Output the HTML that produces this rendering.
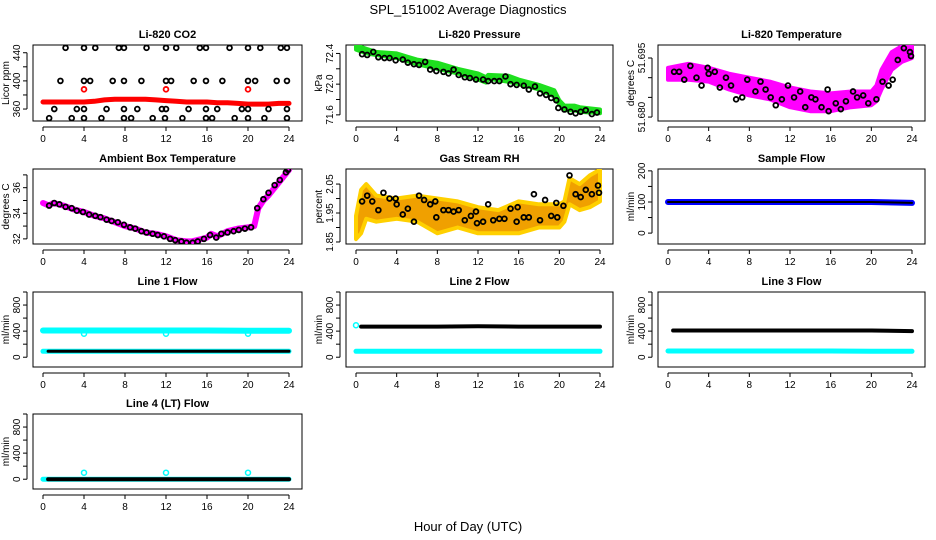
<!DOCTYPE html>
<html><head><meta charset="utf-8">
<style>
html,body{margin:0;padding:0;background:#fff;}
svg{display:block;font-family:"Liberation Sans",sans-serif;}
</style></head>
<body>
<svg id="chart" width="936" height="540" xmlns="http://www.w3.org/2000/svg">
<rect x="0" y="0" width="936" height="540" fill="#fff"/>
<text x="468" y="14" text-anchor="middle" font-size="13">SPL_151002  Average Diagnostics</text>
<text x="468" y="531" text-anchor="middle" font-size="13">Hour of Day (UTC)</text>
</svg>
<script>
// ---- data ----
const xTicks = [0,4,8,12,16,20,24];
// CO2
const co2Hours = [0,1,2,3,4,5,6,7,8,9,10,11,12,13,14,15,16,17,18,19,20,21,22,23,24];
const co2Red = [370,370,370,370,370,371,373,374,374,374,374,373,372,371,370,370,370,369,369,368,367,367,367,368,368];
const co2RedSpikeHours = [4,12,20];
const co2RedSpike = [388,388,388];
const co2Blk440 = [2.2,4,5.1,7.4,7.9,10.1,12,13,15.3,15.9,18.2,20,21.2,23.2,23.8];
const co2Blk400 = [1.7,4,4.6,6.8,7.9,9.6,12,12.5,14.7,15.9,17.5,20,20.7,22.8,23.8];
const co2Blk360 = [1.1,3.3,4,6.2,7.9,9.2,11.6,12,14.2,15.9,17,19.4,20,22,23.8];
const co2Blk347 = [0.6,2.8,4,5.7,7.9,8.6,10.7,11.9,13.6,15.9,16.5,18.7,20,21.6,23.8];
// Pressure
const presHours = [0.6,1.1,1.7,2.2,2.8,3.3,3.9,4.6,5.1,5.7,6.2,6.8,7.3,7.9,8.6,9.1,9.6,10.1,10.7,11.2,11.8,12.5,13,13.6,14.1,14.7,15.2,15.8,16.5,17,17.6,18.1,18.7,19.2,19.7,19.9,20.5,21.1,21.6,22.1,22.6,23.2,23.7];
const presBlack = [72.39,72.38,72.42,72.35,72.34,72.34,72.31,72.32,72.28,72.26,72.25,72.29,72.19,72.17,72.16,72.14,72.19,72.12,72.09,72.08,72.06,72.06,72.04,72.04,72.04,72.10,72.00,71.99,71.98,71.93,71.97,71.88,71.86,71.82,71.79,71.69,71.67,71.64,71.62,71.64,71.66,71.61,71.63];
const presBandHours = [0,1,2,4,5,6,8,10,12,12.8,13,15,16,18,19.5,20,20.5,21.5,22,24];
const presLow = [72.45,72.40,72.38,72.34,72.30,72.26,72.20,72.14,72.06,72.02,72.07,72.03,72.00,71.93,71.84,71.74,71.66,71.66,71.64,71.62];
const presHigh = [72.51,72.46,72.42,72.40,72.36,72.32,72.28,72.20,72.14,72.09,72.12,72.11,72.06,71.99,71.92,71.79,71.72,71.72,71.70,71.67];
// Li-820 temperature
const tempBandHours = [0,2,4,6,8,10,12,14,16,18,20,20.5,21,22,23,24];
const tempLow = [51.6895,51.6895,51.689,51.687,51.6855,51.6845,51.6825,51.6815,51.6815,51.6825,51.683,51.684,51.687,51.692,51.694,51.695];
const tempHigh = [51.6925,51.6935,51.6925,51.691,51.690,51.689,51.6875,51.6865,51.686,51.6865,51.6865,51.688,51.692,51.6965,51.698,51.698];
const tempHours = [0.6,1.1,1.6,2.2,2.8,3.3,3.9,4,4.6,5.1,5.7,6.2,6.7,7.3,7.8,8.6,9.1,9.6,10.1,10.6,11.2,11.8,12.4,13,13.5,14.1,14.5,15.1,15.7,15.8,16.5,17,17.5,18.2,18.6,19.2,19.7,20.5,21.1,21.7,22.1,22.6,23.2,23.8,23.9];
const tempBlack = [51.6915,51.6915,51.6895,51.693,51.690,51.688,51.6925,51.691,51.6915,51.6875,51.690,51.688,51.6845,51.685,51.6895,51.6865,51.689,51.687,51.685,51.683,51.6845,51.688,51.685,51.6865,51.6825,51.685,51.6845,51.6825,51.687,51.6815,51.6835,51.682,51.684,51.6865,51.685,51.6855,51.6835,51.6845,51.689,51.688,51.6895,51.6945,51.6975,51.6965,51.6955];
// Ambient box temperature
const ambHours = [0,0.6,1,2,3,4,5,6,7,8,9,10,11,12,13,14,14.5,15,16,16.4,17,18,19,20,20.6,21,21.5,22,22.5,23,23.5,24];
const ambMagenta = [34.8,34.6,34.8,34.6,34.3,34.1,33.8,33.6,33.3,33.0,32.8,32.5,32.4,32.2,31.9,31.8,31.8,31.9,32.1,32.4,32.2,32.6,32.8,32.9,33.0,34.4,35.0,35.4,35.9,36.4,36.9,37.4];
const ambBlkHours = [0.6,1.1,1.6,2.2,2.8,3.3,3.9,4.5,5.1,5.6,6.2,6.7,7.3,7.9,8.5,9,9.6,10.1,10.7,11.2,11.8,12.4,12.9,13.5,14,14.6,15.1,15.7,16.3,16.9,17.4,18,18.6,19.1,19.7,20.3,20.9,21.5,22,22.6,23.1,23.7,23.9];
const ambBlack = [34.6,34.8,34.7,34.5,34.4,34.2,34.1,33.9,33.8,33.7,33.5,33.4,33.3,33.1,32.9,32.8,32.6,32.5,32.4,32.3,32.2,32.0,31.9,31.8,31.7,31.7,31.8,32.0,32.3,32.1,32.4,32.5,32.6,32.7,32.8,32.9,34.4,35.1,35.6,36.2,36.6,37.2,37.4];
// Gas stream RH
const rhBandHours = [0,0.5,1,2,4,6,8,10,12,14,16,18,20,20.5,21,22,23,24];
const rhLow = [1.86,1.88,1.93,1.92,1.93,1.92,1.88,1.90,1.88,1.88,1.88,1.90,1.90,1.92,1.98,1.96,1.97,1.99];
const rhHigh = [1.94,2.03,2.05,2.01,2.00,2.01,2.00,1.99,1.97,1.96,1.99,1.98,1.98,1.99,2.07,2.05,2.08,2.10];
const rhHours = [0.6,1.1,1.6,2.2,2.7,3.3,3.9,4,4.6,5.1,5.7,6.2,6.7,7.3,7.8,7.9,8.6,9.1,9.6,10.1,10.7,11.3,11.8,11.9,12.5,13,13.5,14.1,14.6,15.2,15.8,15.9,16.5,17,17.5,18.1,18.6,19.2,19.7,19.8,20.4,21,21.6,22.1,22.6,23.2,23.8,23.9];
const rhBlack = [1.99,2.01,1.99,1.96,2.02,2.00,2.00,1.98,1.945,1.965,1.92,2.01,1.995,1.98,1.99,1.935,1.96,1.96,1.955,1.96,1.925,1.94,1.955,1.915,1.92,1.98,1.925,1.93,1.93,1.965,1.92,1.97,1.935,1.935,2.015,1.925,1.995,1.94,1.985,1.935,1.975,2.08,2.015,2.005,2.03,2.015,2.045,2.02];
// Flows
const flowHours = [0,4,8,12,16,20,24];
const sampleBlue = [100,100,100,100,100,100,97];
const sampleBlack = [100,100,100,100,100,100,97];
const line1Cyan = [410,410,410,410,410,405,405];
const line1Black = [90,90,90,90,90,90,90];
const line1DipHours = [4,12,20];
const line1Dip = [360,360,360];
const line2Black = [470,470,470,475,470,470,470];
const line2Cyan = [90,90,90,90,90,90,90];
const line2CyanStart = [490];
const line3Black = [410,410,410,410,410,410,400];
const line3Cyan = [95,95,95,95,95,90,90];
const line4Black = [0,0,0,0,0,0,0];
const line4Cyan = [0,0,0,0,0,0,0];
const line4SpikeHours = [4,12,20];
const line4Spike = [100,100,100];

// ---- drawing ----
const NS = "http://www.w3.org/2000/svg";
const svg = document.getElementById('chart');
const colL = [33,346,658], colR = [302,613,925];
const rowT = [45,169,292,414], rowB = [121,244,367,489];
function mk(tag, attrs, parent){ const e=document.createElementNS(NS,tag); for(const k in attrs) e.setAttribute(k,attrs[k]); (parent||svg).appendChild(e); return e; }

function panel(name, col, row, title, ylab, ymin, ymax, ticks, labels, fmt){
  const g = mk('g',{});
  
  
  const L=colL[col], R=colR[col], T=rowT[row], B=rowB[row];
  const xs = h => L+10+h*(R-L-23)/24;
  const ys = v => B-(v-ymin)/(ymax-ymin)*(B-T);
  const box = mk('rect',{x:L,y:T,width:R-L,height:B-T,fill:'none',stroke:'#000','stroke-width':1},g);
  
  
  const t = mk('text',{x:(L+R)/2,y:T-7,'text-anchor':'middle','font-size':11,'font-weight':'bold'},g);
  t.textContent = title;
  
  
  mk('line',{x1:xs(0),x2:xs(24),y1:B+6,y2:B+6,stroke:'#000'},g);
  xTicks.forEach(v=>{
    mk('line',{x1:xs(v),x2:xs(v),y1:B+6,y2:B+10,stroke:'#000'},g);
    const tx = mk('text',{x:xs(v),y:B+21,'text-anchor':'middle','font-size':10},g);
    tx.textContent = v;
    
    
  });
  mk('line',{x1:L-6,x2:L-6,y1:ys(ticks[0]),y2:ys(ticks[ticks.length-1]),stroke:'#000'},g);
  ticks.forEach(v=>{ mk('line',{x1:L-10,x2:L-6,y1:ys(v),y2:ys(v),stroke:'#000'},g); });
  labels.forEach(v=>{
    const y=ys(v);
    const tx = mk('text',{x:L-13,y:y,'text-anchor':'middle','font-size':10,transform:`rotate(-90 ${L-13} ${y})`},g);
    tx.textContent = fmt(v);
    
    
  });
  const yt = mk('text',{x:L-24,y:(T+B)/2,'text-anchor':'middle','font-size':10,transform:`rotate(-90 ${L-24} ${(T+B)/2})`},g);
  yt.textContent = ylab;
  
  
  const clip = 'clip-'+name;
  const cp = mk('clipPath',{id:clip},g); mk('rect',{x:L,y:T,width:R-L,height:B-T},cp);
  const pg = mk('g',{'clip-path':`url(#${clip})`},g);
  return {xs,ys,g:pg};
}
function pts(p, hours, vals, color, r, sw, nm){
  hours.forEach((h,i)=>{
    const c = mk('circle',{cx:p.xs(h),cy:p.ys(vals[i]),r:r,fill:'none',stroke:color,'stroke-width':sw},p.g);
    
    
  });
}
function thick(p, hours, vals, color, w, nm){
  const d = hours.map((h,i)=>(i?'L':'M')+p.xs(h).toFixed(1)+','+p.ys(vals[i]).toFixed(1)).join('');
  const e = mk('path',{d:d,fill:'none',stroke:color,'stroke-width':w,'stroke-linejoin':'round','stroke-linecap':'round'},p.g);
  
  
}
function band(p, hours, lo, hi, fill, stroke, nm){
  let d = hours.map((h,i)=>(i?'L':'M')+p.xs(h).toFixed(1)+','+p.ys(hi[i]).toFixed(1)).join('');
  for(let i=hours.length-1;i>=0;i--) d+='L'+p.xs(hours[i]).toFixed(1)+','+p.ys(lo[i]).toFixed(1);
  const e = mk('path',{d:d+'Z',fill:fill,stroke:stroke,'stroke-width':4,'stroke-linejoin':'round'},p.g);
  
  
}
const same = v=>String(v);
const SW = 1.8, RR = 2.4;

let p = panel('co2-panel',0,0,'Li-820 CO2','Licor ppm',343,451,[360,380,400,420,440],[360,400,440],same);
thick(p, co2Hours, co2Red, '#f00', 5, 'co2-red-series');
pts(p, co2RedSpikeHours, co2RedSpike, '#f00', RR, SW, 'co2-red-point');
pts(p, co2Blk440, co2Blk440.map(()=>447), '#000', RR, SW, 'co2-black-point');
pts(p, co2Blk400, co2Blk400.map(()=>400), '#000', RR, SW, 'co2-black-point');
pts(p, co2Blk360, co2Blk360.map(()=>360), '#000', RR, SW, 'co2-black-point');
pts(p, co2Blk347, co2Blk347.map(()=>347), '#000', RR, SW, 'co2-black-point');

p = panel('pressure-panel',1,0,'Li-820 Pressure','kPa',71.52,72.51,[71.6,71.8,72.0,72.2,72.4],[71.6,72.0,72.4],v=>v.toFixed(1));
band(p, presBandHours, presLow, presHigh, '#1ee01e', '#1ee01e', 'pressure-green-series');
pts(p, presHours, presBlack, '#000', RR, SW, 'pressure-black-point');

p = panel('licor-temp-panel',2,0,'Li-820 Temperature','degrees C',51.679,51.6983,[51.680,51.685,51.690,51.695],[51.680,51.695],v=>v.toFixed(3));
band(p, tempBandHours, tempLow, tempHigh, '#f0f', '#f0f', 'licor-temp-magenta-series');
pts(p, tempHours, tempBlack, '#000', RR, SW, 'licor-temp-black-point');

p = panel('ambient-temp-panel',0,1,'Ambient Box Temperature','degrees C',31.6,37.46,[32,33,34,35,36,37],[32,34,36],same);
thick(p, ambHours, ambMagenta, '#f0f', 6, 'ambient-magenta-series');
pts(p, ambBlkHours, ambBlack, '#000', RR, SW, 'ambient-black-point');

p = panel('rh-panel',1,1,'Gas Stream RH','percent',1.843,2.102,[1.85,1.90,1.95,2.00,2.05],[1.85,1.95,2.05],v=>v.toFixed(2));
band(p, rhBandHours, rhLow, rhHigh, '#f0a000', '#ffd000', 'rh-orange-series');
pts(p, rhHours, rhBlack, '#000', RR, SW, 'rh-black-point');

p = panel('sample-flow-panel',2,1,'Sample Flow','ml/min',-35,206,[0,50,100,150,200],[0,100,200],same);
thick(p, flowHours, sampleBlue, '#00f', 6, 'sample-flow-blue-series');
thick(p, flowHours, sampleBlack, '#000', 2, 'sample-flow-black-series');

const flowTicks=[0,200,400,600,800,1000], flowLabels=[0,400,800];
p = panel('line1-flow-panel',0,2,'Line 1 Flow','ml/min',-150,1000,flowTicks,flowLabels,same);
thick(p, flowHours, line1Cyan, '#0ff', 6, 'line1-cyan-series');
thick(p, flowHours, line1Black, '#0ff', 5, 'line1-cyan-low-series');
thick(p, flowHours.map(h=>Math.max(h,0.5)), line1Black, '#000', 3, 'line1-black-series');
pts(p, line1DipHours, line1Dip, '#0ff', 2.5, 1.5, 'line1-dip-point');

p = panel('line2-flow-panel',1,2,'Line 2 Flow','ml/min',-150,1000,flowTicks,flowLabels,same);
thick(p, flowHours, line2Cyan, '#0ff', 5, 'line2-cyan-series');
thick(p, flowHours.map(h=>Math.max(h,0.5)), line2Black, '#000', 4, 'line2-black-series');
pts(p, [0], line2CyanStart, '#0ff', 2.5, 1.5, 'line2-cyan-start-point');

p = panel('line3-flow-panel',2,2,'Line 3 Flow','ml/min',-150,1000,flowTicks,flowLabels,same);
thick(p, flowHours, line3Cyan, '#0ff', 5, 'line3-cyan-series');
thick(p, flowHours.map(h=>Math.max(h,0.5)), line3Black, '#000', 4, 'line3-black-series');

p = panel('line4-flow-panel',0,3,'Line 4 (LT) Flow','ml/min',-150,1000,flowTicks,flowLabels,same);
thick(p, flowHours, line4Cyan, '#0ff', 5, 'line4-cyan-series');
thick(p, flowHours.map(h=>Math.max(h,0.5)), line4Black, '#000', 4, 'line4-black-series');
pts(p, line4SpikeHours, line4Spike, '#0ff', 2.5, 1.5, 'line4-spike-point');
</script>
</body></html>
